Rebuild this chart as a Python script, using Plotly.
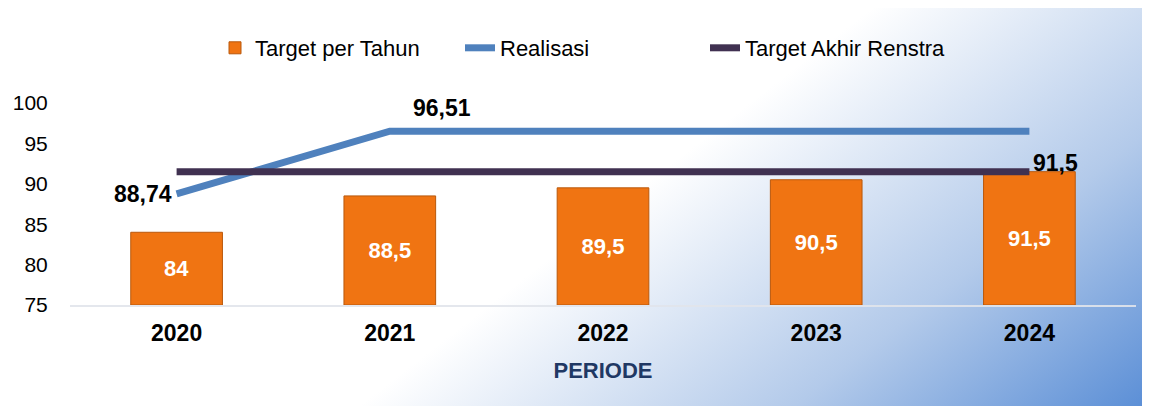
import base64
import plotly.graph_objects as go

# ---- data ----
years = ["2020", "2021", "2022", "2023", "2024"]
target_per_tahun = [84, 88.5, 89.5, 90.5, 91.5]
realisasi = [88.74, 96.51, 96.51, 96.51, 96.51]
target_akhir = [91.5, 91.5, 91.5, 91.5, 91.5]
y_ticks = [75, 80, 85, 90, 95, 100]


def fmt(v):
    return f"{v:g}".replace(".", ",")


FONT = "Liberation Sans, Arial, sans-serif"
OFF = 8  # page body margin
W, H = 1150 - OFF, 406 - OFF
ML, MR, MT, MB = 70 - OFF, 14, 103 - OFF, 101
PW, PH = W - ML - MR, H - MT - MB

fig = go.Figure()

fig.add_trace(go.Bar(
    x=years, y=[v - 75 for v in target_per_tahun], base=75,
    name="Target per Tahun",
    marker=dict(color="#F07412", line=dict(color="#B9580C", width=1)),
    text=[fmt(v) for v in target_per_tahun],
    textposition="inside", insidetextanchor="middle",
    textfont=dict(color="white", size=22, family=FONT, weight="bold"),
    hoverinfo="skip",
))

fig.add_trace(go.Scatter(
    x=years, y=realisasi, name="Realisasi", mode="lines",
    line=dict(color="#4F81BD", width=7),
))

fig.add_trace(go.Scatter(
    x=years, y=target_akhir, name="Target Akhir Renstra", mode="lines",
    line=dict(color="#403151", width=7),
))

label_font = dict(color="black", size=23, family=FONT, weight="bold")
# category axis: annotation x given as category index
annotations = [
    dict(x=0, y=realisasi[0], text=fmt(realisasi[0]), showarrow=False,
         xanchor="right", yanchor="middle", xshift=-3, yshift=0, font=label_font),
    dict(x=1, y=realisasi[1], text=fmt(realisasi[1]), showarrow=False,
         xanchor="left", yanchor="bottom", xshift=21, yshift=8, font=label_font),
    dict(x=4, y=target_akhir[4], text=fmt(target_akhir[4]), showarrow=False,
         xanchor="left", yanchor="middle", xshift=2, yshift=9, font=label_font),
]

svg = (
    f'<svg xmlns="http://www.w3.org/2000/svg" width="{W}" height="{H}" '
    f'viewBox="0 0 {W} {H}" preserveAspectRatio="none"><defs>'
    '<linearGradient id="g" gradientUnits="userSpaceOnUse" x1="845" y1="15" x2="1142" y2="398">'
    '<stop offset="0" stop-color="#FFFFFF"/><stop offset="0.55" stop-color="#B3CAEA"/>'
    '<stop offset="1" stop-color="#5A8ED6"/>'
    '</linearGradient></defs>'
    f'<rect width="{W}" height="{H}" fill="url(#g)"/></svg>'
)
src = "data:image/svg+xml;base64," + base64.b64encode(svg.encode()).decode()

fig.update_layout(
    width=W, height=H,
    margin=dict(l=ML, r=MR, t=MT, b=MB, pad=0, autoexpand=False),
    paper_bgcolor="white", plot_bgcolor="rgba(0,0,0,0)",
    bargap=0.57,
    showlegend=True,
    legend=dict(orientation="h", x=(207 - ML) / PW, xanchor="left",
                y=1 + (MT - 40) / PH, yanchor="middle",
                entrywidth=200, entrywidthmode="pixels",
                font=dict(size=22, family=FONT, color="black"),
                bgcolor="rgba(0,0,0,0)", traceorder="normal"),
    annotations=annotations,
    images=[dict(source=src, xref="paper", yref="paper",
                 x=-ML / PW, y=1 + MT / PH, sizex=W / PW, sizey=H / PH,
                 xanchor="left", yanchor="top", sizing="stretch", layer="below")],
    xaxis=dict(
        type="category", range=[-0.5, 4.5], automargin=False,
        showgrid=False, zeroline=False,
        showline=True, linecolor="rgba(225,228,235,0.9)", linewidth=2,
        ticks="outside", ticklen=6, tickcolor="rgba(0,0,0,0)",
        tickfont=dict(size=23, family=FONT, color="black", weight="bold"),
        title=dict(text="PERIODE", standoff=18,
                   font=dict(size=22, family=FONT, color="#1F3864", weight="bold")),
    ),
    yaxis=dict(
        range=[75, 100], tickvals=y_ticks, automargin=False,
        showgrid=False, zeroline=False,
        showline=False, ticks="outside", ticklen=17, tickcolor="rgba(0,0,0,0)",
        tickfont=dict(size=21, family=FONT, color="black"),
    ),
)

fig.write_html("out.html")
